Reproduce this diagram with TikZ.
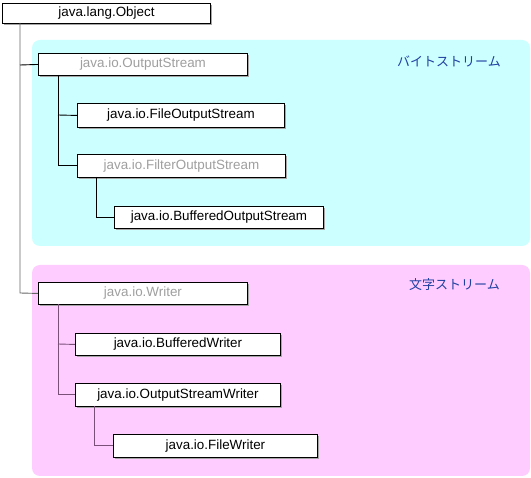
\documentclass[tikz,border=0pt]{standalone}
\usepackage{fontspec}
\usetikzlibrary{shadows}
\setmainfont{Liberation Sans}
\newfontfamily\jpfont{Noto Sans CJK JP}
\definecolor{lblue}{RGB}{32,64,160}
\definecolor{cyanbg}{RGB}{204,255,255}
\definecolor{pinkbg}{RGB}{255,204,255}
\definecolor{plinkc}{RGB}{120,80,120}
\begin{document}
\begin{tikzpicture}[x=1pt,y=-1pt,
  cls/.style={draw=black,line width=0.9pt,fill=white,anchor=north west,inner sep=0pt,
    font=\fontsize{13.4}{14}\selectfont,
    drop shadow={shadow xshift=2pt,shadow yshift=-2pt,fill=gray!70,opacity=1}},
  abs/.style={cls,text=gray!75},
  link/.style={line width=0.9pt,draw=black},
  plink/.style={line width=0.9pt,draw=plinkc},
  glabel/.style={text=lblue,font=\jpfont\fontsize{13}{14}\selectfont}]
\useasboundingbox (0,0) rectangle (531,478);
\fill[white] (0,0) rectangle (531,478);
% regions
\fill[cyanbg,rounded corners=8pt] (32,40) rectangle (530,246);
\fill[pinkbg,rounded corners=8pt] (32,265) rectangle (530,476);
\node[glabel] (lb1) at (449,61) {バイトストリーム};
\node[glabel] (lb2) at (454.5,285) {文字ストリーム};
% boxes
\node[cls,minimum width=208pt,minimum height=20pt] (obj) at (2,3) {java.lang.Object};
\node[abs,minimum width=209pt,minimum height=22pt] (os) at (38,53) {java.io.OutputStream};
\node[cls,minimum width=207pt,minimum height=24pt] (fos) at (77,103) {java.io.FileOutputStream};
\node[abs,minimum width=208pt,minimum height=23pt] (fil) at (77,154) {java.io.FilterOutputStream};
\node[cls,minimum width=209pt,minimum height=22pt] (bos) at (114,206) {java.io.BufferedOutputStream};
\node[abs,minimum width=209pt,minimum height=22pt] (wr) at (38,282) {java.io.Writer};
\node[cls,minimum width=205pt,minimum height=22pt] (bw) at (75,333) {java.io.BufferedWriter};
\node[cls,minimum width=205pt,minimum height=23pt] (osw) at (75,383) {java.io.OutputStreamWriter};
\node[cls,minimum width=204pt,minimum height=23pt] (fw) at (113,434) {java.io.FileWriter};
% connectors
\coordinate (c0) at (20,23);
\draw[link,draw=black!60] (c0) -- (20,293) -- (wr.west);
\draw[link] (20,65) -- (os.west);
\draw[link] (58,75) |- (fil.west);
\draw[link] (58,115) -- (fos.west);
\draw[link] (96,177) |- (bos.west);
\draw[plink] (58,304) |- (osw.west);
\draw[plink] (58,344) -- (bw.west);
\draw[plink] (94,406) |- (fw.west);
\end{tikzpicture}
\end{document}
